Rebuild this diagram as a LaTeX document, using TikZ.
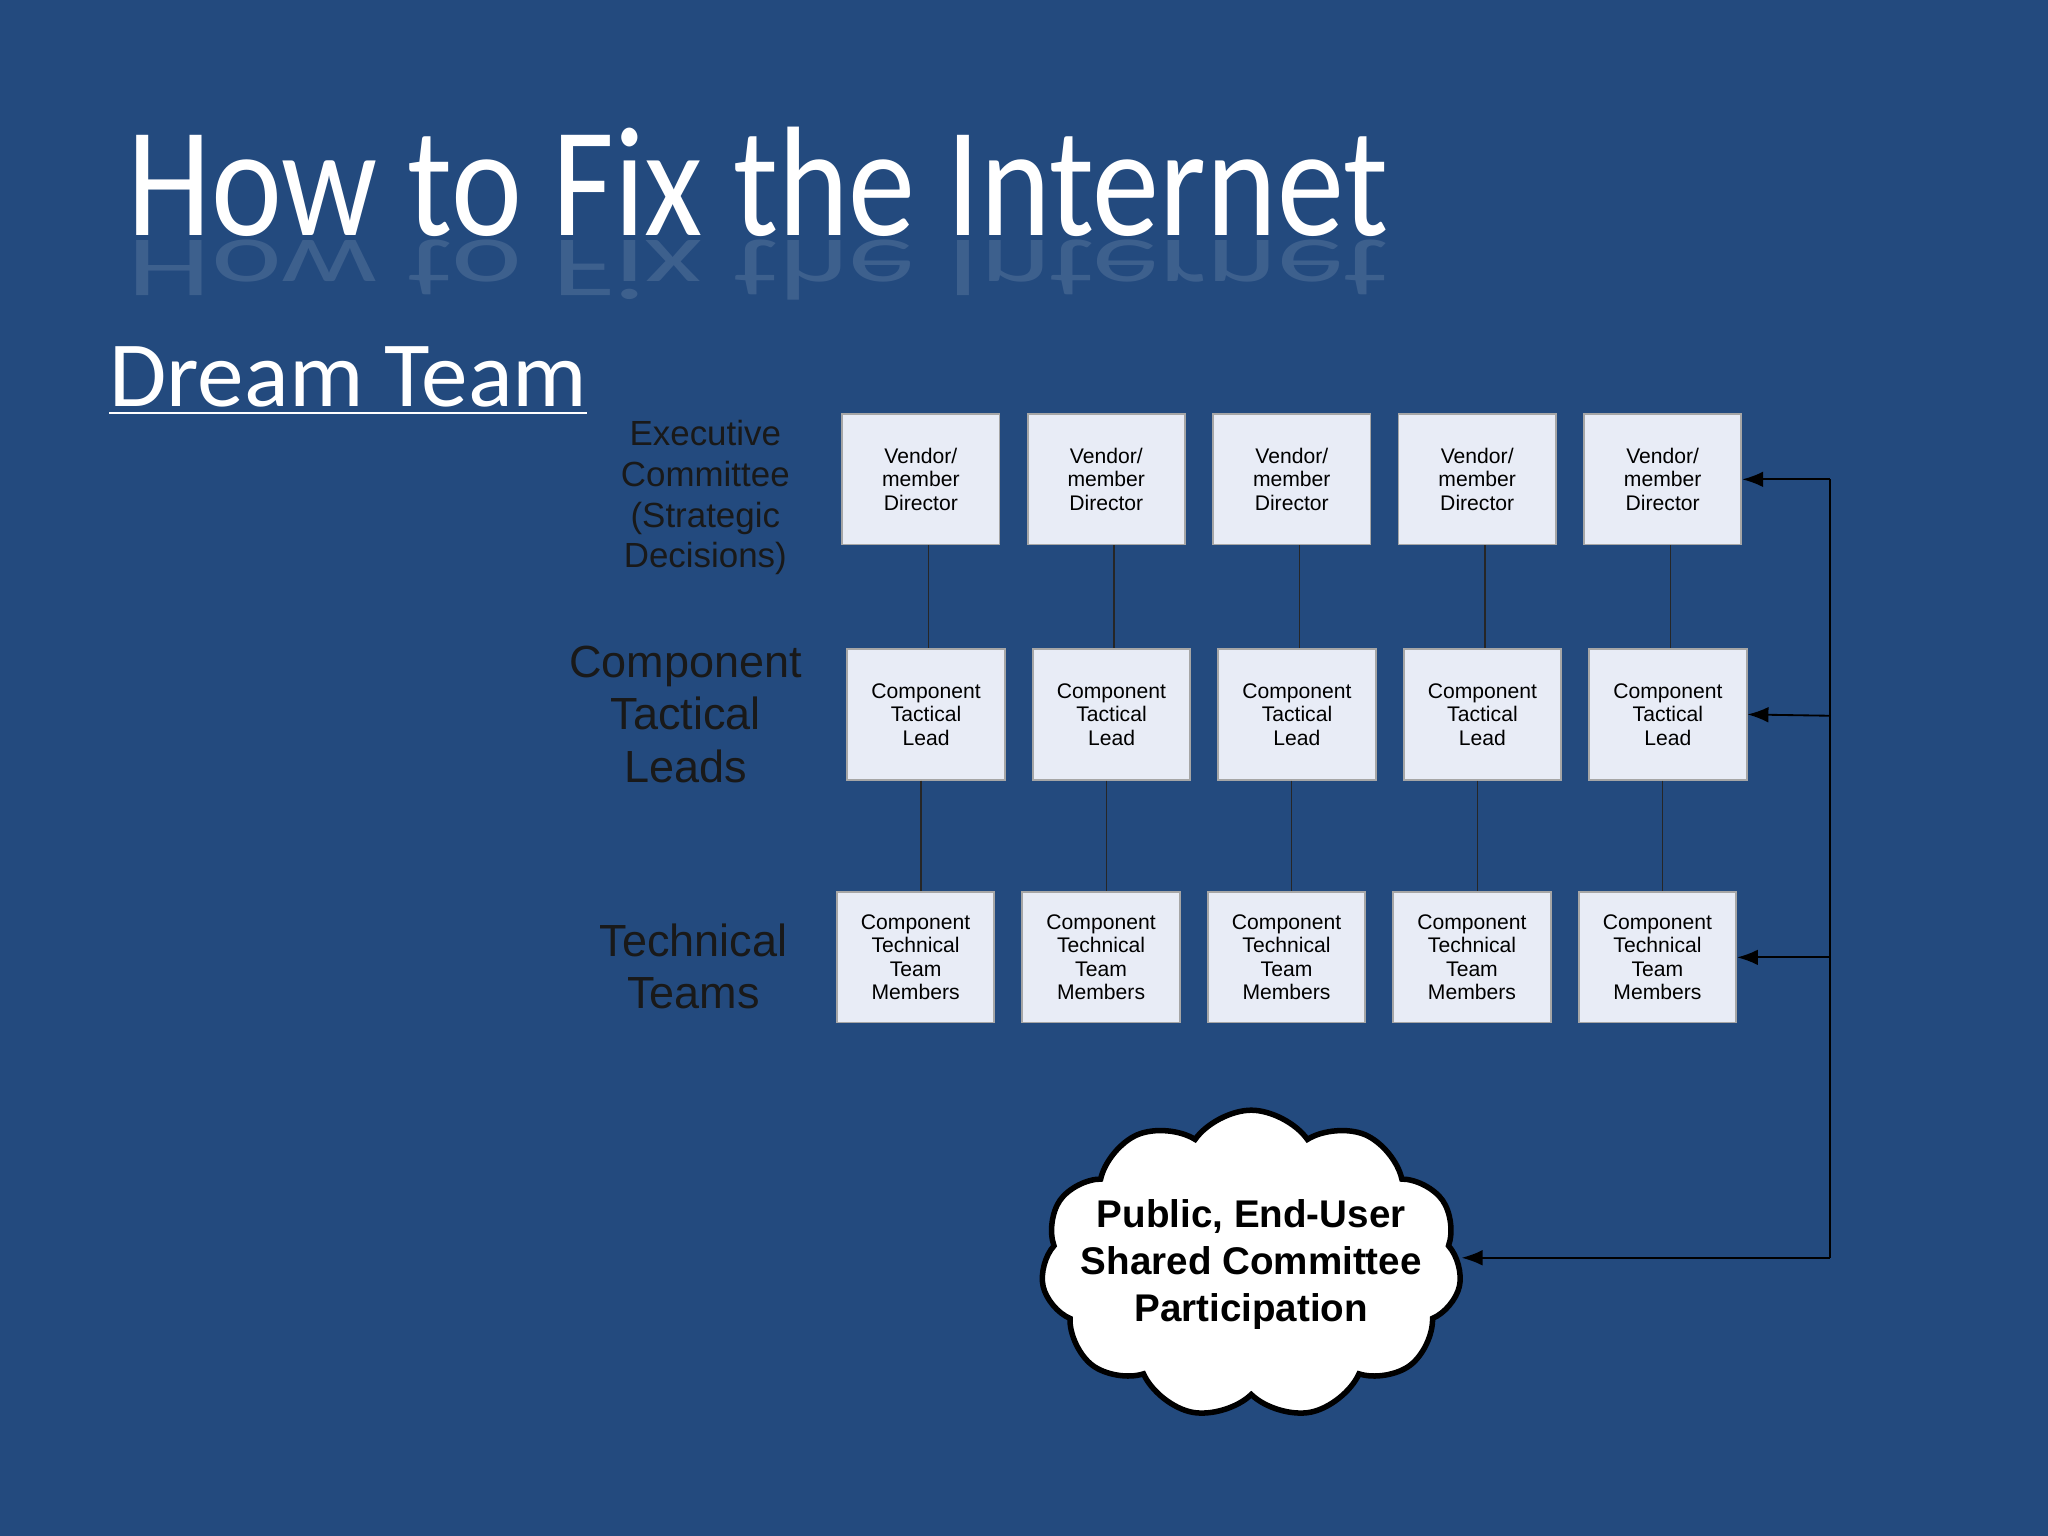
\documentclass[tikz,border=0pt]{standalone}
\usepackage{fontspec}
\setmainfont{Liberation Sans}
\newfontfamily\calib{Carlito}
\usetikzlibrary{shapes.symbols,arrows.meta}
\definecolor{bg}{RGB}{35,74,126}
\definecolor{boxfill}{RGB}{232,236,246}
\begin{document}
\begin{tikzpicture}[x=0.01cm,y=-0.01cm,
  box/.style={draw=gray!70,fill=boxfill,minimum width=34.4mm*0.35,minimum height=28.5mm*0.35,
    inner sep=0pt,align=center,font=\fontsize{4.6}{5.1}\selectfont,text=black},
  lbl/.style={align=center,text=black!90},
  link/.style={draw=black!85,line width=0.3pt},
  fb/.style={draw=black,line width=0.4pt,-{Latex[length=1.6mm,width=1.2mm]}}]
\fill[bg] (0,0) rectangle (1568,1176);
\useasboundingbox (0,0) rectangle (1568,1176);
% title with faint reflection
\node[anchor=base west,inner sep=0,text=white,xscale=0.86,font=\calib\fontsize{34}{40}\selectfont] (title) at (97,180) {How to Fix the Internet};
\node[anchor=base west,inner sep=0,text=white,opacity=0.12,xscale=0.86,yscale=-0.55,font=\calib\fontsize{34}{40}\selectfont] (refl) at (97,184) {How to Fix the Internet};
\node[anchor=base west,inner sep=0,text=white,font=\calib\fontsize{20.3}{24}\selectfont] (sub) at (83,311) {\underline{Dream Team}};
% row labels
\node[lbl,font=\fontsize{7.6}{8.9}\selectfont] (lexec) at (540,381) {Executive\\Committee\\(Strategic\\Decisions)};
\node[lbl,font=\fontsize{9.8}{11.4}\selectfont] (llead) at (525,547) {Component\\Tactical\\Leads};
\node[lbl,font=\fontsize{9.8}{11.4}\selectfont] (lteam) at (531,740) {Technical\\Teams};
% boxes
\foreach \i/\xa/\xb/\xc in {1/705/709/701,2/847/851/843,3/989/993/985,4/1131/1135/1127,5/1273/1277/1269}{
  \node[box] (d\i) at (\xa,367) {Vendor/\\member\\Director};
  \node[box] (l\i) at (\xb,547) {Component\\Tactical\\Lead};
  \node[box] (t\i) at (\xc,733) {Component\\Technical\\Team\\Members};
  \draw[link] ([xshift=6*0.01cm]d\i.south) -- ([xshift=2*0.01cm]l\i.north);
  \draw[link] ([xshift=-4*0.01cm]l\i.south) -- ([xshift=4*0.01cm]t\i.north);
}
% cloud
\node[cloud,cloud puffs=11,cloud puff arc=110,draw=black,line width=1.2pt,fill=white,
  minimum width=322*0.01cm,minimum height=236*0.01cm,inner sep=0pt] (pub) at (958,968) {};
\node[align=center,inner sep=0pt,font=\bfseries\fontsize{8.4}{10.2}\selectfont] (pubtxt) at (958,968) {Public, End-User\\Shared Committee\\Participation};
% feedback line
\coordinate (c1) at (1401,367);
\coordinate (c2) at (1401,548);
\coordinate (c3) at (1401,733);
\coordinate (c4) at (1401,963);
\draw[draw=black,line width=0.4pt] (c1) -- (c4);
\draw[fb] (c1) -- (d5.east);
\draw[fb] (c2) -- (l5.east);
\draw[fb] (c3) -- (t5.east);
\draw[fb] (c4) -- (pub.east |- c4);
\end{tikzpicture}
\end{document}
